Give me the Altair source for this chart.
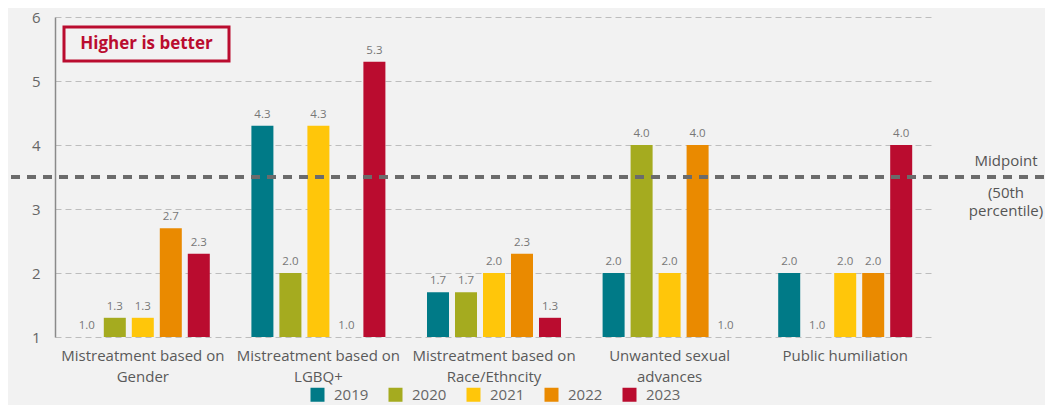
import altair as alt
import pandas as pd

categories = [
    "Mistreatment based on|Gender",
    "Mistreatment based on|LGBQ+",
    "Mistreatment based on|Race/Ethncity",
    "Unwanted sexual|advances",
    "Public humiliation",
]
years = ["2019", "2020", "2021", "2022", "2023"]
values = {
    "2019": [1.0, 4.3, 1.7, 2.0, 2.0],
    "2020": [1.3, 2.0, 1.7, 4.0, 1.0],
    "2021": [1.3, 4.3, 2.0, 2.0, 2.0],
    "2022": [2.7, 1.0, 2.3, 4.0, 2.0],
    "2023": [2.3, 5.3, 1.3, 1.0, 4.0],
}
colors = ["#007a87", "#a5ab1f", "#ffc60a", "#ea8a00", "#ba0c2f"]
midpoint = 3.5

rows = []
for y in years:
    for c, v in zip(categories, values[y]):
        rows.append({"category": c, "year": y, "value": v, "base": 1.0})
df = pd.DataFrame(rows)
one = pd.DataFrame({"mid": [midpoint]})

FONT = "Open Sans"
GRAY = "#666666"

x_enc = alt.X("category:N", sort=categories, title=None,
              scale=alt.Scale(paddingInner=0, paddingOuter=0),
              axis=alt.Axis(labelExpr="split(datum.label, '|')", labelAngle=0,
                            labelFontSize=15, labelColor="#5a5a5a", labelFont=FONT,
                            labelPadding=11, labelLineHeight=21, ticks=False,
                            domain=False, grid=False, labelBaseline="top"))
xo_enc = alt.XOffset("year:N", sort=years,
                     scale=alt.Scale(paddingInner=0.214, paddingOuter=0.743))
y_scale = alt.Scale(domain=[1, 6], nice=False, zero=False)

base = alt.Chart(df)

bars = base.mark_bar().encode(
    x=x_enc,
    xOffset=xo_enc,
    y=alt.Y("value:Q", scale=y_scale, title=None,
            axis=alt.Axis(values=[1, 2, 3, 4, 5, 6], format="d", labelFontSize=15,
                          labelColor=GRAY, labelFont=FONT, labelPadding=15, ticks=False,
                          domainColor="#8a8a8a", domainWidth=1.5,
                          gridColor="#bdbdbd", gridDash=[6, 4], gridWidth=1.2)),
    y2="base:Q",
    color=alt.Color("year:N", sort=years,
                    scale=alt.Scale(domain=years, range=colors),
                    legend=alt.Legend(orient="none", direction="horizontal", title=None,
                                      legendX=255, legendY=370, symbolType="square",
                                      symbolSize=196, symbolStrokeWidth=0,
                                      labelFontSize=15, labelColor=GRAY, labelFont=FONT,
                                      labelOffset=9, columnPadding=19)),
)

labels = base.mark_text(baseline="bottom", dy=-6, fontSize=11.5, color="#777777",
                        font=FONT).encode(
    x=alt.X("category:N", sort=categories),
    xOffset=alt.XOffset("year:N", sort=years),
    y=alt.Y("value:Q", scale=y_scale),
    text=alt.Text("value:Q", format=".1f"),
)

ann = alt.Chart(one)

mid_rule = ann.mark_rule(color="#6b6b6b", strokeWidth=4, strokeDash=[9, 7]).encode(
    y=alt.Y("mid:Q", scale=y_scale), x=alt.value(-44), x2=alt.value(990))

mid_t1 = ann.mark_text(text="Midpoint", fontSize=15, color="#555555",
                       font=FONT, align="center").encode(
    x=alt.value(951), y=alt.value(144))
mid_t2 = ann.mark_text(text="(50th", fontSize=15, color="#555555",
                       font=FONT, align="center").encode(
    x=alt.value(951), y=alt.value(176))
mid_t3 = ann.mark_text(text="percentile)", fontSize=15, color="#555555",
                       font=FONT, align="center").encode(
    x=alt.value(951), y=alt.value(194))

box = ann.mark_rect(fill="#f2f2f2", stroke="#ba0c2f", strokeWidth=3).encode(
    x=alt.value(9), x2=alt.value(174), y=alt.value(10), y2=alt.value(44))
box_text = ann.mark_text(text="Higher is better", fontSize=17,
                         fontWeight="bold", color="#ba0c2f", font=FONT,
                         align="center", baseline="middle").encode(
    x=alt.value(91.5), y=alt.value(27))

chart = alt.layer(bars, labels, mid_rule, mid_t1, mid_t2, mid_t3, box, box_text).properties(
    width=878, height=320,
    padding={"left": 47, "top": 9, "right": 112, "bottom": 68},
    autosize=alt.AutoSizeParams(type="none"),
    background="#f2f2f2",
).configure_view(stroke=None)

chart.save("out.html", embed_options={"renderer": "svg", "actions": False})
